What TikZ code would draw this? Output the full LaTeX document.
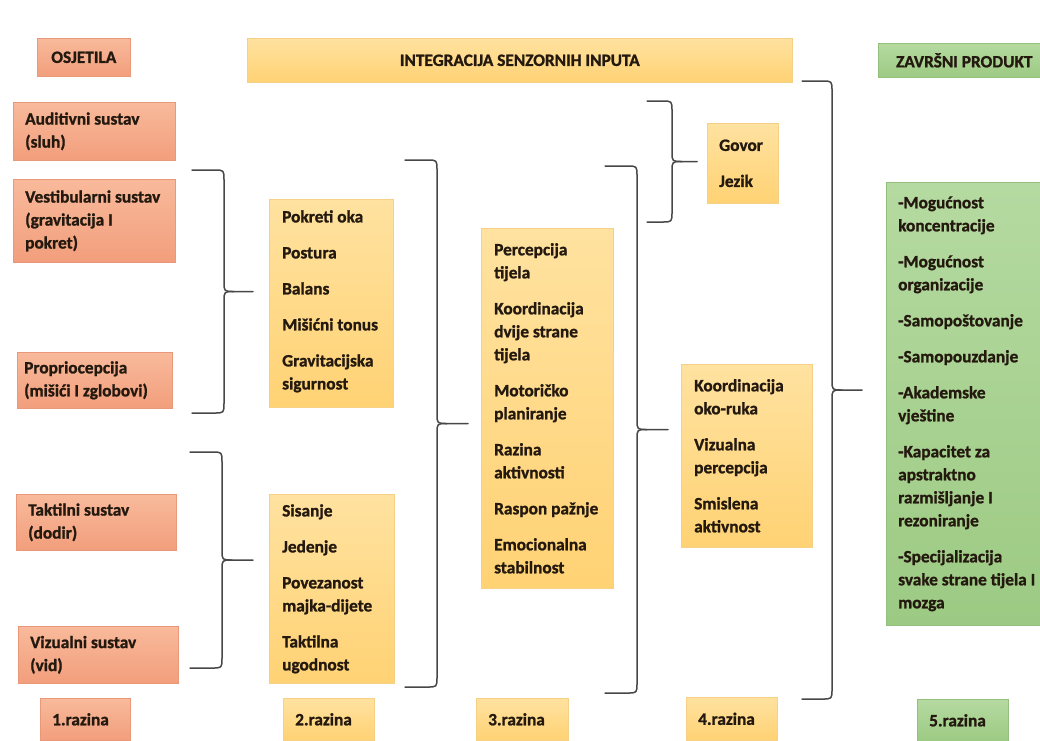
\documentclass[tikz,border=0pt]{standalone}
\usepackage{fontspec}
\setmainfont{Carlito}[BoldFeatures={FakeBold=1.2}]
\definecolor{sTop}{HTML}{F8BA9B}
\definecolor{sBot}{HTML}{F29E7C}
\definecolor{sEdge}{HTML}{E99879}
\definecolor{yTop}{HTML}{FFE2A0}
\definecolor{yBot}{HTML}{FFD274}
\definecolor{yEdge}{HTML}{F6D084}
\definecolor{gTop}{HTML}{B5DAA1}
\definecolor{gBot}{HTML}{9CCA83}
\definecolor{gEdge}{HTML}{95C07C}
\definecolor{ink}{HTML}{24190F}
\definecolor{braceC}{HTML}{474747}
\tikzset{
  base/.style={rectangle, anchor=north west, inner sep=0pt},
  salmon/.style={base, top color=sTop, bottom color=sBot, draw=sEdge, line width=0.6pt},
  yel/.style={base, top color=yTop, bottom color=yBot, draw=yEdge, line width=0.6pt},
  grn/.style={base, top color=gTop, bottom color=gBot, draw=gEdge, line width=0.6pt},
  txt/.style={anchor=west, align=left, inner sep=0pt, font=\fontsize{17.3}{23}\selectfont\bfseries, text=ink},
  head/.style={inner sep=0pt, font=\fontsize{17.3}{20}\selectfont\bfseries, text=ink},
  brace/.style={draw=braceC, line width=1.5pt, line join=round, line cap=round}
}
\newcommand{\curlybr}[6]{%
  \pgfmathsetmacro\ymid{(#4+#5)/2}%
  \coordinate (#1-top) at (#2,#4);
  \coordinate (#1-bot) at (#2,#5);
  \coordinate (#1-tip) at (#6,\ymid);
  \draw[brace] (#1-top) -- (#3-10,#4) .. controls (#3,#4) .. (#3,#4+10) -- (#3,\ymid-10) .. controls (#3,\ymid) .. (#3+10,\ymid) -- (#1-tip);
  \draw[brace] (#3+10,\ymid) .. controls (#3,\ymid) .. (#3,\ymid+10) -- (#3,#5-10) .. controls (#3,#5) .. (#3-10,#5) -- (#1-bot);
}
\begin{document}
\begin{tikzpicture}[x=1pt,y=-1pt]
\clip (0,0) rectangle (1040,740);
\fill[white] (0,0) rectangle (1040,740);

% headers
\node[salmon, minimum width=93pt, minimum height=38pt] (osj) at (37,38) {};
\node[head] (osjt) at (osj.center) {OSJETILA};
\node[yel, minimum width=545pt, minimum height=44pt] (ban) at (247,38) {};
\node[head] (bant) at (ban.center) {INTEGRACIJA SENZORNIH INPUTA};
\node[grn, minimum width=172pt, minimum height=34pt] (zav) at (878,43) {};
\node[head] (zavt) at (zav.center) {ZAVRŠNI PRODUKT};

% level 1
\node[salmon, minimum width=162pt, minimum height=58pt] (aud) at (13,102) {};
\node[txt] (audt) at ([xshift=12pt]aud.west) {Auditivni sustav\\(sluh)};
\node[salmon, minimum width=162pt, minimum height=83pt] (ves) at (13,179) {};
\node[txt] (vest) at ([xshift=12pt]ves.west) {Vestibularni sustav\\(gravitacija I\\pokret)};
\node[salmon, minimum width=155pt, minimum height=56pt] (pro) at (17,352) {};
\node[txt] (prot) at ([xshift=7pt]pro.west) {Propriocepcija\\(mišići I zglobovi)};
\node[salmon, minimum width=160pt, minimum height=56pt] (tak) at (16,494) {};
\node[txt] (takt) at ([xshift=12pt]tak.west) {Taktilni sustav\\(dodir)};
\node[salmon, minimum width=160pt, minimum height=57pt] (viz) at (18,626) {};
\node[txt] (vizt) at ([xshift=12pt]viz.west) {Vizualni sustav\\(vid)};
\node[salmon, minimum width=90pt, minimum height=42pt] (r1) at (40,698) {};
\node[txt] (r1t) at ([xshift=12pt]r1.west) {1.razina};

% level 2
\node[yel, minimum width=124pt, minimum height=208pt] (l2a) at (269,199) {};
\node[txt] (l2at) at ([xshift=13pt,yshift=2pt]l2a.west) {Pokreti oka\\[13pt]Postura\\[13pt]Balans\\[13pt]Mišićni tonus\\[13pt]Gravitacijska\\sigurnost};
\node[yel, minimum width=125pt, minimum height=189pt] (l2b) at (269,494) {};
\node[txt] (l2bt) at ([xshift=13pt]l2b.west) {Sisanje\\[13pt]Jedenje\\[13pt]Povezanost\\majka-dijete\\[13pt]Taktilna\\ugodnost};
\node[yel, minimum width=91pt, minimum height=42pt] (r2) at (283,698) {};
\node[txt] (r2t) at ([xshift=12pt]r2.west) {2.razina};

% level 3
\node[yel, minimum width=132pt, minimum height=360pt] (l3) at (481,228) {};
\node[txt] (l3t) at ([xshift=13pt]l3.west) {Percepcija\\tijela\\[13pt]Koordinacija\\dvije strane\\tijela\\[13pt]Motoričko\\planiranje\\[13pt]Razina\\aktivnosti\\[13pt]Raspon pažnje\\[13pt]Emocionalna\\stabilnost};
\node[yel, minimum width=92pt, minimum height=42pt] (r3) at (476,698) {};
\node[txt] (r3t) at ([xshift=12pt]r3.west) {3.razina};

% level 4
\node[yel, minimum width=71pt, minimum height=80pt] (gov) at (707,123) {};
\node[txt] (govt) at ([xshift=12pt]gov.west) {Govor\\[13pt]Jezik};
\node[yel, minimum width=131pt, minimum height=183pt] (l4) at (681,364) {};
\node[txt] (l4t) at ([xshift=13pt]l4.west) {Koordinacija\\oko-ruka\\[13pt]Vizualna\\percepcija\\[13pt]Smislena\\aktivnost};
\node[yel, minimum width=91pt, minimum height=43pt] (r4) at (686,697) {};
\node[txt] (r4t) at ([xshift=12pt]r4.west) {4.razina};

% level 5
\node[grn, minimum width=170pt, minimum height=443pt] (fin) at (886,182) {};
\node[txt] (fint) at ([xshift=12pt]fin.west) {-Mogućnost\\koncentracije\\[13pt]-Mogućnost\\organizacije\\[13pt]-Samopoštovanje\\[13pt]-Samopouzdanje\\[13pt]-Akademske\\vještine\\[13pt]-Kapacitet za\\apstraktno\\razmišljanje I\\rezoniranje\\[13pt]-Specijalizacija\\svake strane tijela I\\mozga};
\node[grn, minimum width=91pt, minimum height=42pt] (r5) at (917,699) {};
\node[txt] (r5t) at ([xshift=12pt]r5.west) {5.razina};

% braces
\curlybr{b1}{192}{224}{170}{413}{253}
\curlybr{b2}{190}{222}{452}{668}{253}
\curlybr{b3}{405}{437}{160}{687}{468}
\curlybr{b4}{605}{637}{166}{693}{668}
\curlybr{b5}{647}{672}{101}{222}{697}
\curlybr{b6}{802}{832}{81}{699}{862}
\end{tikzpicture}
\end{document}
